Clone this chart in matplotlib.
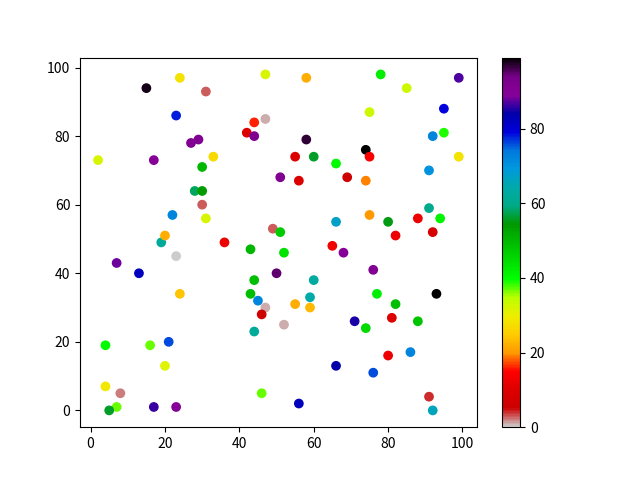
import matplotlib
matplotlib.use("Agg")
import matplotlib.pyplot as plt

plt.rcParams['font.family'] = ['Noto Sans CJK SC', 'DejaVu Sans']

x = [15, 24, 31, 47, 58, 78, 85, 99, 23, 47, 44, 42, 44, 27, 29, 2, 17, 33, 30, 28,
     30, 30, 22, 31, 51, 49, 51, 58, 74, 75, 55, 60, 66, 99, 91, 56, 69, 74, 91, 94,
     88, 92, 82, 80, 75, 66, 65, 68, 52, 50, 60, 76, 77, 93, 59, 55, 59, 82, 81, 88,
     71, 74, 52, 80, 86, 76, 66, 56, 91, 92, 19, 20, 36, 23, 7, 13, 24, 43, 44, 43,
     45, 47, 46, 44, 4, 16, 21, 20, 4, 8, 7, 5, 17, 23, 46, 75, 95, 92, 95]
y = [94, 97, 93, 98, 97, 98, 94, 97, 86, 85, 84, 81, 80, 78, 79, 73, 73, 74, 71, 64,
     64, 60, 57, 56, 68, 53, 52, 79, 76, 74, 74, 74, 72, 74, 70, 67, 68, 67, 59, 56,
     56, 52, 51, 55, 57, 55, 48, 46, 46, 40, 38, 41, 34, 34, 33, 31, 30, 31, 27, 26,
     26, 24, 25, 16, 17, 11, 13, 2, 4, 0, 49, 51, 49, 45, 43, 40, 34, 47, 38, 34,
     32, 30, 28, 23, 19, 19, 20, 13, 7, 5, 1, 0, 1, 1, 5, 87, 88, 80, 81]
c = [98, 28, 3, 32, 22, 42, 33, 87, 78, 1, 16, 10, 92, 91, 91, 32, 90, 27, 50, 58,
     54, 3, 72, 32, 91, 3, 47, 97, 99, 14, 10, 56, 40, 28, 70, 10, 6, 19, 60, 41,
     12, 8, 12, 55, 20, 67, 13, 90, 44, 95, 63, 91, 42, 99, 64, 22, 23, 49, 10, 48,
     85, 45, 1, 12, 72, 76, 84, 82, 4, 66, 62, 22, 12, 0, 88, 82, 24, 50, 49, 49,
     72, 1, 6, 62, 40, 37, 76, 31, 29, 2, 37, 56, 86, 90, 37, 33, 79, 72, 39]

fig, ax = plt.subplots(figsize=(6.4, 4.8), dpi=100)
sc = ax.scatter(x, y, c=c, cmap='nipy_spectral_r')
fig.colorbar(sc, ax=ax)
fig.savefig('out.png')
